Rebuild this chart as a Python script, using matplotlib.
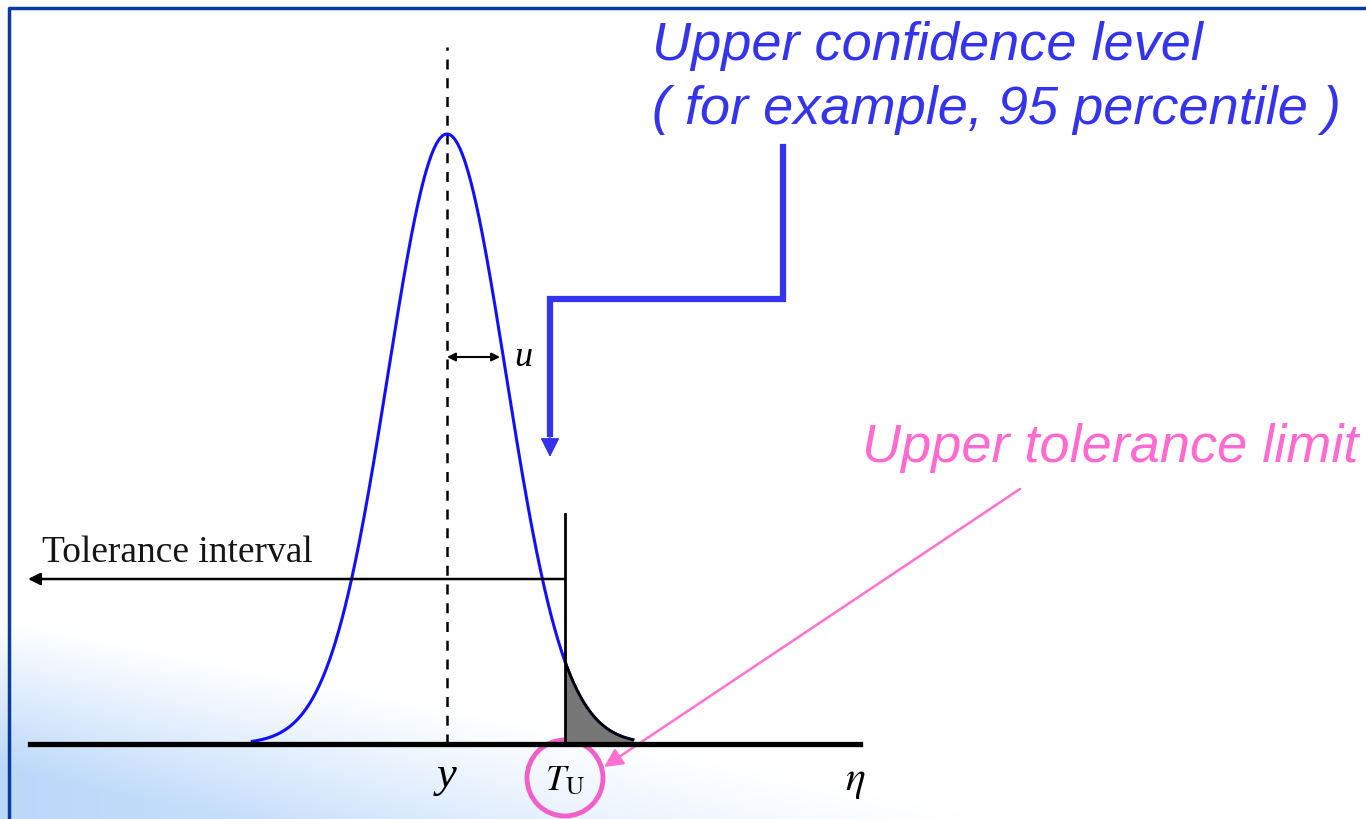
import numpy as np
import matplotlib.pyplot as plt
import matplotlib.transforms as mtransforms
from matplotlib.patches import Circle, FancyArrowPatch

# distribution (in units of sigma)
mu = 0.0
sigma = 1.0
t_upper = 2.0
tail_lo, tail_hi = -3.3, 3.15

labels_top = ['Upper confidence level', '( for example, 95 percentile )']
label_limit = 'Upper tolerance limit'
label_interval = 'Tolerance interval'

W, H = 1366, 820
# pixel frame of the sketch: mean at x=447, 59 px per sigma, baseline at y=745, peak at y=135
x0, sx, y0, sy = 447, 59.0, 745, 610.0

fig = plt.figure(figsize=(W / 100, H / 100), dpi=100)
ax = fig.add_axes([0, 0, 1, 1])
ax.set_zorder(2)
ax.set_xlim(-x0 / sx, (W - x0) / sx)
ax.set_ylim(-(H - y0) / sy, y0 / sy)
ax.axis('off')

# pixel transform, origin top-left
px = mtransforms.Affine2D().scale(1 / W, -1 / H).translate(0, 1) + fig.transFigure

# light blue wash at lower left
gy, gx = np.mgrid[0:H, 0:W]
s = np.clip((gy - (620 + 0.2 * gx)) / 150.0, 0, 1) * np.clip(1 - gx / 1400.0, 0, 1)
img = np.ones((H, W, 4))
img[..., 0] = 1 - s * (1 - 186 / 255)
img[..., 1] = 1 - s * (1 - 216 / 255)
img[..., 2] = 1 - s * (1 - 250 / 255)
fig.figimage(img, 0, 0, zorder=0, origin='upper')

# frame
fig.add_artist(plt.Line2D([9, 9, W], [H, 9, 9], transform=px, color='#0a3aa0', lw=2.5))

# curve
eta = np.linspace(tail_lo, tail_hi, 600)
pdf = np.exp(-0.5 * ((eta - mu) / sigma) ** 2)
ax.plot(eta, pdf, color='#1010ff', lw=2.2, zorder=3)
tail = eta >= t_upper
ax.fill_between(eta[tail], 0, pdf[tail], color='#777777', zorder=3)
ax.plot(eta[tail], pdf[tail], color='black', lw=2, zorder=4)

# axis line, mean line, T_U line
ax.plot([(30 - x0) / sx, (860 - x0) / sx], [0, 0], color='black', lw=3.8, zorder=5)
ax.plot([mu, mu], [0, (y0 - 48) / sy], color='black', lw=1.8, ls=(0, (4, 3.5)), zorder=2)
ax.plot([t_upper, t_upper], [0, (y0 - 515) / sy], color='black', lw=2, zorder=5)

# tolerance interval arrow
ax.annotate('', xy=((28 - x0) / sx, (y0 - 580) / sy), xytext=(t_upper, (y0 - 580) / sy),
            arrowprops=dict(arrowstyle='-|>', color='black', lw=1.8, mutation_scale=18,
                            shrinkA=0, shrinkB=0), zorder=5)
ax.text((42 - x0) / sx, (y0 - 553) / sy, label_interval, family='Liberation Serif',
        fontsize=27, va='center', ha='left', color='#151515')

# u arrow
u_y = (y0 - 358) / sy
ax.annotate('', xy=(mu, u_y), xytext=(mu + 0.9 * sigma, u_y),
            arrowprops=dict(arrowstyle='<|-|>', color='black', lw=1.5, mutation_scale=12,
                            shrinkA=0, shrinkB=0), zorder=5)
ax.text(mu + 1.3 * sigma, u_y, 'u', family='Liberation Serif', style='italic',
        fontsize=26, va='center', ha='center')

# bottom labels
ax.text(mu, (y0 - 776) / sy, 'y', family='Liberation Serif', style='italic',
        fontsize=32, va='center', ha='center')
ax.text(t_upper, (y0 - 780) / sy, r'$T_{\mathrm{U}}$', fontsize=26, va='center', ha='center',
        math_fontfamily='stix')
ax.text((855 - x0) / sx, (y0 - 780) / sy, r'$\eta$', fontsize=30, va='center', ha='center',
        math_fontfamily='stix')

# pink circle and arrow
fig.add_artist(Circle((565, 779), 38, transform=px, fill=False, ec='#f060c8', lw=3.5))
fig.add_artist(FancyArrowPatch((1020, 490), (604, 768), transform=px, arrowstyle='-|>',
                               color='#ff70d0', lw=1.8, mutation_scale=28, shrinkA=0, shrinkB=0))
fig.text(862, 462, label_limit, transform=px, family='Liberation Sans', style='italic',
         fontsize=39, color='#ff6ad0', va='baseline', ha='left')

# blue stepped arrow
blue = '#3434ee'
fig.add_artist(plt.Line2D([783, 783, 550, 550], [148, 300, 300, 435], transform=px,
                          color=blue, lw=4.5, solid_joinstyle='miter'))
fig.add_artist(FancyArrowPatch((550, 420), (550, 458), transform=px, arrowstyle='-|>',
                               color=blue, lw=1, mutation_scale=30, shrinkA=0, shrinkB=0))
fig.text(652, 60, labels_top[0], transform=px, family='Liberation Sans', style='italic',
         fontsize=39, color=blue, va='baseline', ha='left')
fig.text(652, 124, labels_top[1], transform=px, family='Liberation Sans', style='italic',
         fontsize=39, color=blue, va='baseline', ha='left')

fig.savefig('out.png', dpi=100)
